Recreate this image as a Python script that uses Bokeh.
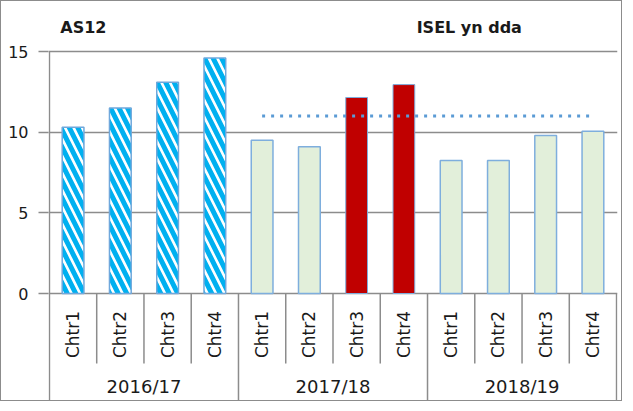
import math
from bokeh.plotting import figure
from bokeh.models import Range1d, FixedTicker
from bokeh.core.properties import value
from bokeh.embed import file_html
from bokeh.resources import INLINE

# ---- data ----
years = ["2016/17", "2017/18", "2018/19"]
quarters = ["Chtr1", "Chtr2", "Chtr3", "Chtr4"]
vals_2016 = [10.3, 11.5, 13.1, 14.6]
vals_2017 = [9.5, 9.1, 12.15, 12.95]
vals_2018 = [8.25, 8.25, 9.8, 10.05]
target_value = 11
target_first = ("2017/18", "Chtr1")
target_last = ("2018/19", "Chtr4")
highlight = [("2017/18", "Chtr3"), ("2017/18", "Chtr4")]
hatched_year = "2016/17"
y_ticks = [0, 5, 10, 15]
title_left = "AS12"
title_right = "ISEL yn dda"

FONT = "DejaVu Sans"
values_by_year = [vals_2016, vals_2017, vals_2018]
factors = [(y, q) for y in years for q in quarters]
vals = [v for vs in values_by_year for v in vs]
centers = [i + 0.5 for i in range(len(factors))]
nq = len(quarters)

p = figure(width=622, height=401, output_backend="svg", toolbar_location=None,
           x_range=Range1d(-0.02, len(factors) + 0.02),
           y_range=Range1d(-6.756, 18.10),
           min_border_left=47, min_border_right=6, min_border_top=0, min_border_bottom=0)
p.styles = {"border": "1px solid #8c8c8c"}
p.outline_line_color = None
p.background_fill_color = "white"
p.border_fill_color = "white"
p.xaxis.visible = False
p.xgrid.visible = False
p.ygrid.ticker = FixedTicker(ticks=y_ticks)
p.ygrid.grid_line_color = "#8c8c8c"
p.ygrid.grid_line_width = 1.5
p.yaxis.ticker = FixedTicker(ticks=y_ticks)
p.yaxis.axis_line_color = None
p.yaxis.major_tick_out = 10
p.yaxis.major_tick_in = 0
p.yaxis.major_tick_line_color = "#8c8c8c"
p.yaxis.major_tick_line_width = 1.5
p.yaxis.minor_tick_line_color = None
p.yaxis.major_label_standoff = 10
p.yaxis.major_label_text_font = FONT
p.yaxis.major_label_text_font_size = "16px"
p.yaxis.major_label_text_color = "#1a1a1a"

# bars
hx, hv, gx, gv, rx, rv = [], [], [], [], [], []
for f, c, v in zip(factors, centers, vals):
    if f[0] == hatched_year:
        hx.append(c); hv.append(v)
    elif f in highlight:
        rx.append(c); rv.append(v)
    else:
        gx.append(c); gv.append(v)
bw = 0.46
p.vbar(x=hx, top=hv, bottom=0, width=bw, fill_color="white", hatch_pattern="\\",
       hatch_color="#00B0F0", hatch_scale=17, hatch_weight=5,
       line_color="#6FA8DC", line_width=1.5)
p.vbar(x=gx, top=gv, bottom=0, width=bw, fill_color="#E2EFDA",
       line_color="#7EAEDD", line_width=1.5)
p.vbar(x=rx, top=rv, bottom=0, width=bw, fill_color="#C00000",
       line_color="#7EAEDD", line_width=1)

# target line
i0 = factors.index(target_first); i1 = factors.index(target_last)
p.line(x=[centers[i0], centers[i1]], y=[target_value, target_value],
       line_color="#5B9BD5", line_width=3, line_dash="3 6")

# axis line and category table
ystart = p.y_range.start
p.segment(x0=[0], y0=[ystart], x1=[0], y1=[y_ticks[-1]], line_color="#8c8c8c", line_width=1.5)
sep_x = [float(i) for i in range(1, len(factors)) if i % nq != 0]
p.segment(x0=sep_x, y0=[0] * len(sep_x), x1=sep_x, y1=[-4.34] * len(sep_x),
          line_color="#8c8c8c", line_width=1.5)
grp_x = [float(i) for i in range(nq, len(factors) + 1, nq)]
p.segment(x0=grp_x, y0=[0] * len(grp_x), x1=grp_x, y1=[ystart] * len(grp_x),
          line_color="#8c8c8c", line_width=1.5)

p.text(x=centers, y=[-2.54] * len(centers), text=[f[1] for f in factors], angle=math.pi / 2,
       text_align="center", text_baseline="middle", text_font=value(FONT),
       text_font_size="17px", text_color="#1a1a1a")
gc = [nq * i + nq / 2 for i in range(len(years))]
p.text(x=gc, y=[-5.76] * len(gc), text=years, text_align="center", text_baseline="middle",
       text_font=value(FONT), text_font_size="18px", text_color="#1a1a1a")

p.text(x=[0.23, 7.77], y=[16.49, 16.49], text=[title_left, title_right], text_align="left",
       text_baseline="middle", text_font=value(FONT), text_font_size="16px",
       text_font_style="bold", text_color="#1a1a1a")

open("out.html", "w").write(file_html(p, INLINE))
